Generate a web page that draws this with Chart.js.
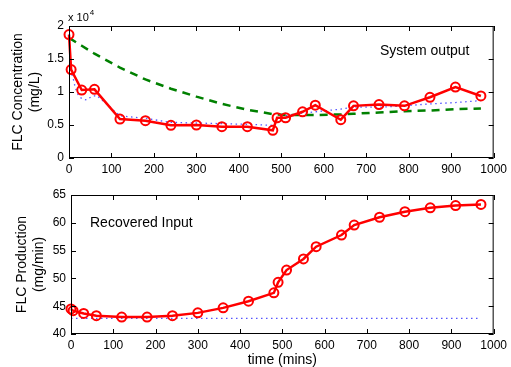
<!DOCTYPE html>
<html>
<head>
<meta charset="utf-8">
<script src="https://cdn.jsdelivr.net/npm/chart.js@4"></script>
<style>
  body { margin: 0; background: #fff; }
  #wrap { position: relative; width: 511px; height: 367px; }
  .box { position: absolute; left: 0; width: 511px; }
</style>
</head>
<body>
<div id="wrap">
  <div class="box" style="top:0;height:180px"><canvas id="topChart" width="511" height="180"></canvas></div>
  <div class="box" style="top:180px;height:187px"><canvas id="botChart" width="511" height="187"></canvas></div>
</div>
<script>
// sample times (mins)
var times = [0, 5, 30, 60, 120, 180, 240, 300, 360, 420, 480, 490, 510, 550, 580, 640, 670, 730, 790, 850, 910, 970];

// top panel: FLC concentration (mg/L)
var measured = [18700, 13400, 10300, 10400, 5900, 5650, 4950, 5000, 4750, 4750, 4200, 6100, 6100, 7000, 8000, 5800, 7900, 8100, 7900, 9200, 10750, 9400];
var noInput = [18100, 18000, 17000, 15800, 13700, 11900, 10500, 9300, 8200, 7300, 6650, 6600, 6500, 6500, 6500, 6600, 6700, 6900, 7100, 7200, 7400, 7500];
var fitTimes = [0, 5, 10, 15, 22, 30, 41, 53, 65, 120, 180, 240, 300, 360, 420, 480, 490, 510, 550, 580, 640, 670, 730, 790, 850, 910, 970];
var fitted = [18700, 13000, 12000, 10600, 9500, 9000, 8800, 9300, 9500, 6400, 6000, 5400, 5300, 5200, 5100, 4950, 6100, 6400, 6800, 7000, 7400, 7700, 7700, 7900, 8200, 8400, 8700];

// bottom panel: FLC production (mg/min)
var production = [44.5, 44.2, 43.7, 43.3, 43.05, 43.05, 43.3, 43.8, 44.7, 45.9, 47.4, 49.3, 51.5, 53.5, 55.7, 57.8, 59.6, 61.0, 62.0, 62.7, 63.1, 63.3];
var baseTimes = [0, 970];
var baseline = [42.8, 42.8];

function pts(xs, ys) {
  var out = [];
  for (var i = 0; i < xs.length; i++) out.push({x: xs[i], y: ys[i]});
  return out;
}

var fontFam = "'Liberation Sans', Arial, Helvetica, sans-serif";

// matlab style box with inward ticks
var boxPlugin = {
  id: 'box',
  afterDraw: function(chart) {
    var ctx = chart.ctx, a = chart.chartArea;
    var xs = chart.scales.x, ys = chart.scales.y;
    ctx.save();
    ctx.strokeStyle = '#000';
    ctx.lineWidth = 1;
    ctx.strokeRect(a.left + 0.5, a.top + 0.5, a.right - a.left - 1, a.bottom - a.top - 1);
    ctx.beginPath();
    xs.ticks.forEach(function(t) {
      var px = Math.round(xs.getPixelForValue(t.value)) + 0.5;
      ctx.moveTo(px, a.bottom); ctx.lineTo(px, a.bottom - 5);
      ctx.moveTo(px, a.top); ctx.lineTo(px, a.top + 5);
    });
    ys.ticks.forEach(function(t) {
      var py = Math.round(ys.getPixelForValue(t.value)) + 0.5;
      ctx.moveTo(a.left, py); ctx.lineTo(a.left + 5, py);
      ctx.moveTo(a.right, py); ctx.lineTo(a.right - 5, py);
    });
    ctx.stroke();
    var lbl = chart.options.plugins.box.label;
    if (lbl) {
      ctx.fillStyle = '#000';
      ctx.font = '14px ' + fontFam;
      ctx.textBaseline = 'middle';
      ctx.fillText(lbl.text, lbl.x, lbl.y);
    }
    if (chart.options.plugins.box.exponent) {
      ctx.font = '11px ' + fontFam;
      ctx.textBaseline = 'alphabetic';
      ctx.fillText('x 10', 68, 21);
      var w = ctx.measureText('x 10').width;
      ctx.font = '8px ' + fontFam;
      ctx.fillText('4', 68 + w + 1, 15);
    }
    ctx.restore();
  }
};

function makeOptions(cfg) {
  return {
    responsive: false,
    animation: false,
    layout: { padding: { left: 4, top: cfg.padTop, right: 16, bottom: 0 } },
    plugins: {
      legend: { display: false },
      tooltip: { enabled: false },
      box: { label: cfg.label, exponent: cfg.exponent }
    },
    scales: {
      x: {
        type: 'linear', min: 0, max: 1000,
        grid: { display: false, drawTicks: false },
        border: { display: false },
        ticks: { stepSize: 100, padding: 4, color: '#000', font: { size: 12, family: fontFam }, callback: function(v) { return String(v); } },
        title: cfg.xTitle ? { display: true, text: cfg.xTitle, color: '#000', padding: { top: 0, bottom: 0 }, font: { size: 14, family: fontFam, lineHeight: 1 } } : { display: false },
        afterFit: function(s) { s.height = cfg.xHeight; }
      },
      y: {
        type: 'linear', min: cfg.yMin, max: cfg.yMax,
        grid: { display: false, drawTicks: false },
        border: { display: false },
        ticks: { stepSize: cfg.yStep, padding: 5, color: '#000', font: { size: 12, family: fontFam }, callback: cfg.yFmt },
        title: { display: true, text: cfg.yTitle, color: '#000', padding: { top: cfg.yTitlePad, bottom: 0 }, font: { size: 14, family: fontFam, lineHeight: 1.2 } },
        afterFit: function(s) { s.width = cfg.yWidth; }
      }
    }
  };
}

new Chart(document.getElementById('topChart'), {
  type: 'line',
  data: {
    datasets: [
      { data: pts(times, measured), borderColor: '#ff0000', borderWidth: 2.5, pointRadius: 4.5, pointBorderWidth: 2, pointBorderColor: '#ff0000', pointBackgroundColor: 'rgba(0,0,0,0)', tension: 0, clip: false },
      { data: pts(fitTimes, fitted), borderColor: '#5555ff', borderWidth: 1.3, borderDash: [1.5, 3.5], pointRadius: 0, tension: 0, clip: false },
      { data: pts(times, noInput), borderColor: '#008000', borderWidth: 2.5, borderDash: [8, 6], pointRadius: 0, tension: 0, clip: false }
    ]
  },
  options: makeOptions({
    padTop: 26, xHeight: 22, yWidth: 65, yTitlePad: 5.6,
    yMin: 0, yMax: 20000, yStep: 5000,
    yFmt: function(v) { return String(v / 10000); },
    yTitle: ['FLC Concentration', '(mg/L)'],
    label: { text: 'System output', x: 380, y: 51 },
    exponent: true
  }),
  plugins: [boxPlugin]
});

new Chart(document.getElementById('botChart'), {
  type: 'line',
  data: {
    datasets: [
      { data: pts(times, production), borderColor: '#ff0000', borderWidth: 2.5, pointRadius: 4.5, pointBorderWidth: 2, pointBorderColor: '#ff0000', pointBackgroundColor: 'rgba(0,0,0,0)', tension: 0, clip: false },
      { data: pts(baseTimes, baseline), borderColor: '#5555ff', borderWidth: 1.3, borderDash: [1.5, 3.5], pointRadius: 0, tension: 0, clip: false }
    ]
  },
  options: makeOptions({
    padTop: 15, xHeight: 33, yWidth: 67, yTitlePad: 10,
    yMin: 40, yMax: 65, yStep: 5,
    yFmt: function(v) { return String(v); },
    yTitle: ['FLC Production', '(mg/min)'],
    xTitle: 'time (mins)',
    label: { text: 'Recovered Input', x: 90, y: 42.7 }
  }),
  plugins: [boxPlugin]
});
</script>
</body>
</html>
